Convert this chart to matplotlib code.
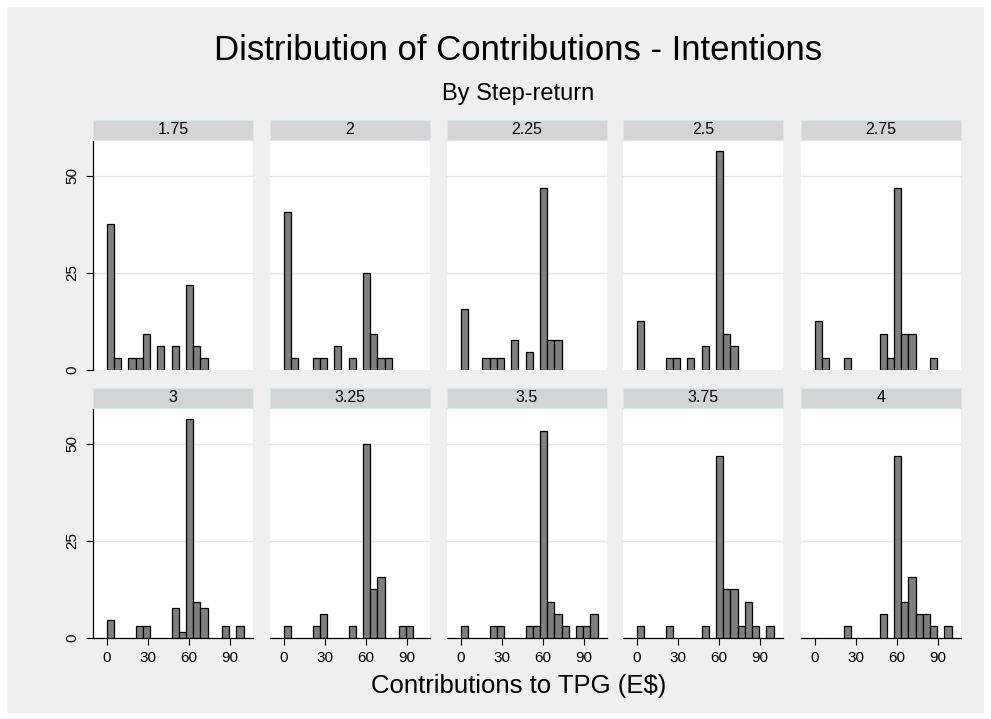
import numpy as np
import matplotlib.pyplot as plt
from matplotlib.patches import Rectangle

plt.rcParams['font.family'] = ['Liberation Sans', 'DejaVu Sans']

# panel labels (step-return) and percent per bin (19 bins over 0-100)
panels = ["1.75", "2", "2.25", "2.5", "2.75", "3", "3.25", "3.5", "3.75", "4"]
n_bins = 19
x_lo, x_hi = 0, 100

pct = {
    "1.75": [37.5, 3.125, 0, 3.125, 3.125, 9.375, 0, 6.25, 0, 6.25, 0, 21.875, 6.25, 3.125, 0, 0, 0, 0, 0],
    "2":    [40.625, 3.125, 0, 0, 3.125, 3.125, 0, 6.25, 0, 3.125, 0, 25, 9.375, 3.125, 3.125, 0, 0, 0, 0],
    "2.25": [15.625, 0, 0, 3.125, 3.125, 3.125, 0, 7.8125, 0, 4.6875, 0, 46.875, 7.8125, 7.8125, 0, 0, 0, 0, 0],
    "2.5":  [12.5, 0, 0, 0, 3.125, 3.125, 0, 3.125, 0, 6.25, 0, 56.25, 9.375, 6.25, 0, 0, 0, 0, 0],
    "2.75": [12.5, 3.125, 0, 0, 3.125, 0, 0, 0, 0, 9.375, 3.125, 46.875, 9.375, 9.375, 0, 0, 3.125, 0, 0],
    "3":    [4.6875, 0, 0, 0, 3.125, 3.125, 0, 0, 0, 7.8125, 1.5625, 56.25, 9.375, 7.8125, 0, 0, 3.125, 0, 3.125],
    "3.25": [3.125, 0, 0, 0, 3.125, 6.25, 0, 0, 0, 3.125, 0, 50, 12.5, 15.625, 0, 0, 3.125, 3.125, 0],
    "3.5":  [3.125, 0, 0, 0, 3.125, 3.125, 0, 0, 0, 3.125, 3.125, 53.125, 9.375, 6.25, 3.125, 0, 3.125, 3.125, 6.25],
    "3.75": [3.125, 0, 0, 0, 3.125, 0, 0, 0, 0, 3.125, 0, 46.875, 12.5, 12.5, 3.125, 9.375, 3.125, 0, 3.125],
    "4":    [0, 0, 0, 0, 3.125, 0, 0, 0, 0, 6.25, 0, 46.875, 9.375, 15.625, 6.25, 6.25, 3.125, 0, 3.125],
}

xticks = [0, 30, 60, 90]
yticks = [0, 25, 50]

W, H = 991, 719
bg = '#efefef'
fig = plt.figure(figsize=(W / 100, H / 100), dpi=100, facecolor='white')
fig.patches.append(Rectangle((7 / W, 6 / H), 977 / W, 706 / H, transform=fig.transFigure,
                             facecolor=bg, edgecolor='none', zorder=-10))

def px(x, y, w, h):
    return [x / W, 1 - (y + h) / H, w / W, h / H]

col_x = [93, 270, 447, 623, 801]
pw = 160
rows = [(120, 141, 370), (388, 409, 638)]  # strip top, plot top, plot bottom

edges = np.linspace(x_lo, x_hi, n_bins + 1)
bw = edges[1] - edges[0]

for i, lab in enumerate(panels):
    r, c = divmod(i, 5)
    st, pt, pb = rows[r]
    x0 = col_x[c]
    ax = fig.add_axes(px(x0, pt, pw, pb - pt))
    ax.set_facecolor('white')
    h = np.array(pct[lab])
    m = h > 0
    ax.bar(edges[:-1][m], h[m], width=bw, align='edge', color='#7f7f7f',
           edgecolor='black', linewidth=0.9, zorder=3)
    ax.set_xlim(-10, 106.8)
    ax.set_ylim(0, 58.9)
    for g in [25, 50]:
        ax.axhline(g, color='#e6e6e6', lw=1, zorder=1)
    for s in ['top', 'right']:
        ax.spines[s].set_visible(False)
    ax.spines['left'].set_visible(c == 0)
    ax.spines['bottom'].set_visible(r == 1)
    for s in ['left', 'bottom']:
        ax.spines[s].set_linewidth(0.9)
    ax.set_yticks(yticks)
    if c == 0:
        ax.tick_params(axis='y', length=5, width=0.8, pad=5, labelsize=11)
        ax.set_yticklabels([str(v) for v in yticks], rotation=90, va='center')
    else:
        ax.tick_params(axis='y', length=0, labelleft=False)
    ax.set_xticks(xticks)
    if r == 1:
        ax.tick_params(axis='x', length=5, width=0.8, pad=4, labelsize=11)
    else:
        ax.tick_params(axis='x', length=0, labelbottom=False)

    sx = fig.add_axes(px(x0, st, pw, pt - st - 1))
    sx.set_facecolor('#d4d4d4')
    sx.set_xticks([])
    sx.set_yticks([])
    for s in sx.spines.values():
        s.set_color('#dde6ea')
        s.set_linewidth(0.8)
    sx.text(0.5, 0.5, lab, ha='center', va='center', fontsize=11.5, transform=sx.transAxes)

fig.text(518 / W, 1 - 51 / H, "Distribution of Contributions - Intentions",
         ha='center', va='center', fontsize=25)
fig.text(518 / W, 1 - 94 / H, "By Step-return", ha='center', va='center', fontsize=17)
fig.text(519 / W, 1 - 686 / H, "Contributions to TPG (E$)", ha='center', va='center', fontsize=18.5)

fig.savefig('out.png', dpi=100, facecolor=fig.get_facecolor())
